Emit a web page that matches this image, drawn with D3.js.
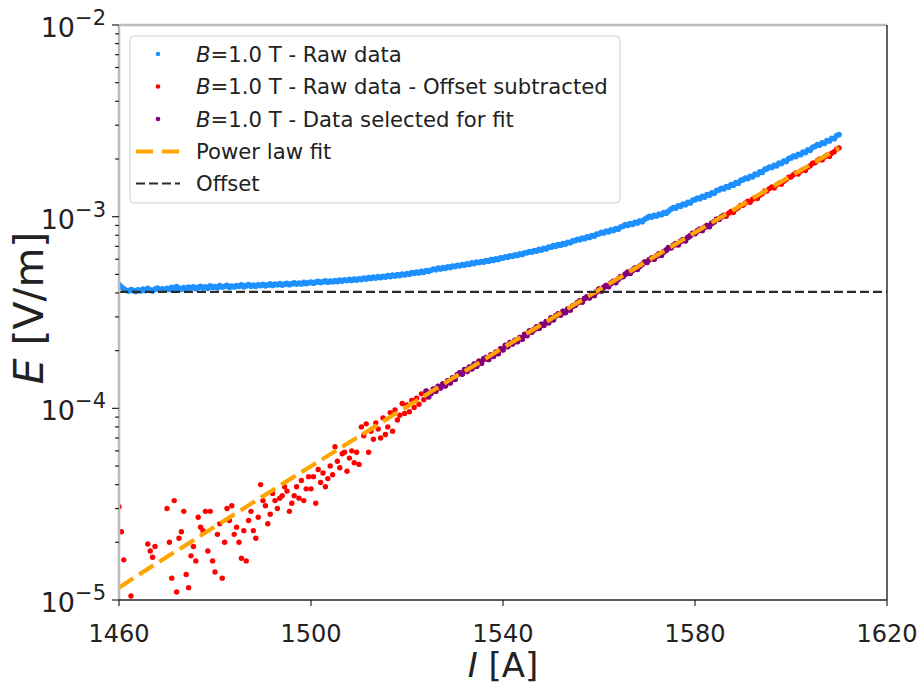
<!DOCTYPE html>
<html>
<head>
<meta charset="utf-8">
<script src="https://cdn.jsdelivr.net/npm/d3@7"></script>
<style>
  body { margin: 0; background: #fff; }
  svg { font-family: 'DejaVu Sans', sans-serif; }
</style>
</head>
<body>
<div id="main"></div>
<script>
// measurement grid: current ramp sampled every 0.5 A
const currentStart = 1460;
const currentStep = 0.5;

// B=1.0 T raw data, E in units of 1e-4 V/m
const rawE = [
  4.42, 4.30, 4.20, 4.13, 4.09, 4.16, 4.12, 4.07, 4.15, 4.10,
  4.18, 4.12, 4.22, 4.15, 4.10, 4.19, 4.24, 4.14, 4.20, 4.16,
  4.23, 4.17, 4.27, 4.20, 4.31, 4.22, 4.18, 4.26, 4.21, 4.29,
  4.24, 4.30, 4.21, 4.27, 4.33, 4.25, 4.30, 4.23, 4.35, 4.28,
  4.31, 4.26, 4.36, 4.29, 4.33, 4.38, 4.28, 4.34, 4.30, 4.37,
  4.33, 4.40, 4.31, 4.36, 4.42, 4.34, 4.39, 4.33, 4.41, 4.37,
  4.43, 4.36, 4.40, 4.46, 4.38, 4.44, 4.41, 4.47, 4.40, 4.45,
  4.49, 4.42, 4.47, 4.51, 4.45, 4.50, 4.46, 4.54, 4.48, 4.52,
  4.56, 4.50, 4.55, 4.60, 4.53, 4.58, 4.62, 4.55, 4.61, 4.57,
  4.63, 4.59, 4.66, 4.61, 4.68, 4.64, 4.70, 4.65, 4.72, 4.67,
  4.74, 4.70, 4.78, 4.73, 4.80, 4.76, 4.83, 4.78, 4.86, 4.81,
  4.88, 4.84, 4.92, 4.87, 4.95, 4.90, 4.98, 4.93, 5.02, 4.97,
  5.05, 5.00, 5.10, 5.06, 5.14, 5.09, 5.18, 5.13, 5.23, 5.19,
  5.26, 5.33, 5.29, 5.38, 5.34, 5.42, 5.38, 5.47, 5.43, 5.52,
  5.49, 5.57, 5.54, 5.62, 5.59, 5.67, 5.64, 5.73, 5.69, 5.79,
  5.76, 5.83, 5.80, 5.90, 5.86, 5.96, 5.92, 6.02, 5.98, 6.10,
  6.08, 6.17, 6.14, 6.24, 6.21, 6.31, 6.28, 6.39, 6.35, 6.48,
  6.47, 6.57, 6.54, 6.65, 6.62, 6.74, 6.70, 6.83, 6.79, 6.94,
  6.93, 7.05, 7.01, 7.14, 7.10, 7.24, 7.20, 7.35, 7.30, 7.47,
  7.49, 7.62, 7.58, 7.73, 7.68, 7.84, 7.79, 7.96, 7.91, 8.10,
  8.14, 8.29, 8.23, 8.40, 8.34, 8.53, 8.46, 8.66, 8.59, 8.82,
  8.92, 9.08, 9.01, 9.20, 9.13, 9.34, 9.27, 9.50, 9.42, 9.68,
  9.84, 10.02, 9.95, 10.16, 10.08, 10.32, 10.24, 10.50, 10.41, 10.70,
  10.96, 11.16, 11.10, 11.38, 11.32, 11.62, 11.55, 11.88, 11.80, 12.14,
  12.26, 12.50, 12.42, 12.74, 12.66, 13.02, 12.94, 13.32, 13.24, 13.66,
  13.78, 14.06, 13.98, 14.34, 14.26, 14.68, 14.60, 15.04, 14.96, 15.44,
  15.58, 15.90, 15.82, 16.22, 16.14, 16.66, 16.58, 17.10, 17.02, 17.62,
  17.78, 18.14, 18.06, 18.50, 18.42, 19.02, 18.92, 19.50, 19.40, 20.08,
  20.26, 20.70, 20.60, 21.16, 21.06, 21.74, 21.62, 22.30, 22.18, 23.00,
  23.26, 23.76, 23.64, 24.28, 24.16, 24.96, 24.84, 25.64, 25.52, 26.50,
  26.80
];

// raw data - offset subtracted, E in units of 1e-5 V/m (values below 1e-5 fall off the axis)
const subtractedE = [
  3.07, 2.27, 1.62, 0.6, 0.9, 1.05, 0.3, 0.7, -0.2, 0.85,
  0.6, 0.9, 1.96, 1.8, 1.67, 1.9, 0.7, 0.95, 0.4, 0.8,
  3.0, 2.0, 1.3, 3.3, 1.1, 2.1, 2.27, 2.9, 1.36, 1.16,
  1.7, 1.9, 1.6, 2.7, 2.4, 2.3, 2.9, 1.8, 2.9, 1.6,
  1.4, 2.2, 2.5, 1.3, 2.0, 3.0, 2.6, 3.1, 2.2, 2.4,
  2.0, 1.65, 2.3, 1.6, 2.6, 2.9, 2.3, 2.1, 2.7, 4.0,
  3.3, 3.1, 2.5, 2.8, 3.6, 3.3, 3.0, 3.4, 3.5, 3.9,
  3.7, 2.9, 3.2, 3.5, 3.9, 3.4, 4.2, 3.3, 3.8, 4.4,
  3.8, 4.4, 3.2, 4.8, 4.1, 4.6, 3.9, 4.3, 5.0, 4.5,
  6.3, 5.3, 4.9, 5.8, 5.9, 4.7, 5.5, 6.0, 5.2, 5.9,
  5.1, 8.0, 7.2, 8.3, 5.9, 7.6, 6.9, 8.4, 7.8, 7.0,
  8.9, 7.3, 8.0, 9.5, 7.6, 9.8, 8.7, 9.2, 10.6, 9.4,
  10.4, 9.6, 11.0, 10.1, 11.3, 10.5, 11.9, 11.1, 12.3, 11.5,
  12.0, 12.6, 12.3, 13.0, 12.8, 13.4, 13.1, 13.9, 13.6, 14.4,
  14.2, 15.0, 15.3, 15.1, 15.9, 15.6, 16.4, 16.1, 17.0, 16.6,
  17.6, 17.2, 18.1, 18.4, 18.0, 19.0, 18.7, 19.6, 19.3, 20.4,
  20.2, 21.3, 21.0, 22.0, 21.7, 22.6, 22.3, 23.4, 23.0, 24.3,
  24.0, 25.3, 25.0, 25.8, 26.6, 26.2, 27.4, 27.1, 28.3, 28.0,
  29.6, 29.0, 30.4, 31.1, 30.7, 32.0, 31.6, 33.0, 32.6, 34.1,
  34.5, 35.6, 36.3, 35.9, 37.4, 38.1, 37.7, 39.3, 38.8, 40.6,
  41.9, 41.0, 42.8, 43.7, 43.2, 45.0, 45.9, 45.3, 47.2, 48.6,
  48.7, 50.2, 51.3, 50.6, 52.6, 53.8, 53.1, 55.2, 56.4, 57.9,
  57.8, 59.7, 60.8, 60.1, 62.4, 63.9, 63.0, 65.6, 66.8, 68.9,
  68.8, 70.9, 72.3, 71.4, 74.2, 75.8, 74.9, 77.9, 79.4, 81.7,
  81.6, 84.2, 85.9, 84.8, 88.0, 89.9, 88.8, 92.4, 94.1, 96.9,
  96.8, 99.8, 101.5, 100.4, 104.3, 106.4, 105.1, 109.2, 111.4, 114.5,
  114.8, 118.0, 120.3, 118.9, 123.4, 126.0, 124.4, 129.2, 131.8, 136.0,
  136.2, 140.1, 142.9, 141.1, 146.2, 149.3, 147.4, 153.0, 156.1, 160.8,
  161.0, 165.6, 168.9, 166.8, 172.8, 176.4, 174.1, 180.8, 184.4, 190.0,
  191.0, 196.3, 200.2, 197.8, 204.8, 209.0, 206.3, 214.2, 218.4, 225.0,
  228.0
];

// current window used for the fit
const fitRange = [1524, 1586];

// power law fit curve, E in units of 1e-5 V/m
const fitCurrents = [1460, 1465, 1470, 1475, 1480, 1485, 1490, 1495, 1500, 1505, 1510,
  1515, 1520, 1525, 1530, 1535, 1540, 1545, 1550, 1555, 1560, 1565, 1570, 1575, 1580,
  1585, 1590, 1595, 1600, 1605, 1610];
const fitE = [1.16, 1.40, 1.68, 2.01, 2.42, 2.90, 3.48, 4.17, 4.99, 5.97, 7.14,
  8.53, 10.2, 12.2, 14.6, 17.3, 20.7, 24.6, 29.3, 34.9, 41.5, 49.3, 58.6, 69.6, 82.7,
  97.9, 116, 138, 163, 193, 228];

const offsetE = 4.05e-4;

const xTicks = [1460, 1500, 1540, 1580, 1620];
const yTickExponents = [-5, -4, -3, -2];

const legendLabels = [
  ' - Raw data',
  ' - Raw data - Offset subtracted',
  ' - Data selected for fit',
  'Power law fit',
  'Offset',
];

const width = 920;
const height = 689;
const mLeft = 119, mRight = 887, mTop = 25, mBottom = 600;

const blue = 'dodgerblue';
const red = '#ff0000';
const purple = 'purple';
const orange = 'orange';

const raw = rawE.map((v, i) => ({ I: currentStart + i * currentStep, E: v * 1e-4 }));
const subtracted = subtractedE.map((v, i) => ({ I: currentStart + i * currentStep, E: v * 1e-5 }))
  .filter((d) => d.E > 0);
const selected = subtracted.filter((d) => d.I >= fitRange[0] && d.I <= fitRange[1]);
const fit = fitCurrents.map((I, i) => ({ I, E: fitE[i] * 1e-5 }));

const svg = d3.select('#main')
  .append('svg')
  .attr('width', width)
  .attr('height', height);

const x = d3.scaleLinear().domain([1460, 1620]).range([mLeft, mRight]);
const y = d3.scaleLog().domain([1e-5, 1e-2]).range([mBottom, mTop]);

svg.append('clipPath')
  .attr('id', 'plot-clip')
  .append('rect')
  .attr('x', mLeft)
  .attr('y', mTop)
  .attr('width', mRight - mLeft)
  .attr('height', mBottom - mTop);

const plot = svg.append('g').attr('clip-path', 'url(#plot-clip)');

function drawDots(data, color, r) {
  plot.append('g')
    .selectAll('circle')
    .data(data)
    .enter()
    .append('circle')
    .attr('cx', (d) => x(d.I))
    .attr('cy', (d) => y(d.E))
    .attr('r', r)
    .style('fill', color);
}

drawDots(raw, blue, 2.9);
drawDots(subtracted, red, 2.7);
drawDots(selected, purple, 2.9);

const line = d3.line().x((d) => x(d.I)).y((d) => y(d.E));

plot.append('path')
  .datum(fit)
  .attr('d', line)
  .style('fill', 'none')
  .style('stroke', orange)
  .style('stroke-width', 4.2)
  .style('stroke-dasharray', '17,7');

plot.append('line')
  .attr('x1', mLeft)
  .attr('x2', mRight)
  .attr('y1', y(offsetE))
  .attr('y2', y(offsetE))
  .style('stroke', '#2a2a2a')
  .style('stroke-width', 2.4)
  .style('stroke-dasharray', '9,4');

// spines
svg.append('line').attr('x1', mLeft).attr('x2', mRight).attr('y1', mTop).attr('y2', mTop)
  .style('stroke', '#bbb').style('stroke-width', 2.5);
svg.append('line').attr('x1', mLeft).attr('x2', mLeft).attr('y1', mTop).attr('y2', mBottom)
  .style('stroke', '#bbb').style('stroke-width', 2.5);
svg.append('line').attr('x1', mRight).attr('x2', mRight).attr('y1', mTop).attr('y2', mBottom)
  .style('stroke', '#222').style('stroke-width', 1.4);
svg.append('line').attr('x1', mLeft).attr('x2', mRight).attr('y1', mBottom).attr('y2', mBottom)
  .style('stroke', '#222').style('stroke-width', 1.4);

// x ticks
const xg = svg.append('g');
xg.selectAll('line')
  .data(xTicks)
  .enter()
  .append('line')
  .attr('x1', (d) => x(d))
  .attr('x2', (d) => x(d))
  .attr('y1', mBottom)
  .attr('y2', mBottom + 6)
  .style('stroke', '#222')
  .style('stroke-width', 1.2);
xg.selectAll('text')
  .data(xTicks)
  .enter()
  .append('text')
  .attr('x', (d) => x(d))
  .attr('y', mBottom + 42)
  .attr('text-anchor', 'middle')
  .style('font-size', '24px')
  .style('fill', '#222')
  .text((d) => d);

// y ticks (log, with minor ticks)
const yg = svg.append('g');
yg.selectAll('line')
  .data(y.ticks())
  .enter()
  .append('line')
  .attr('x1', mLeft)
  .attr('x2', (d) => {
    const major = Math.abs(Math.log10(d) - Math.round(Math.log10(d))) < 1e-9;
    return mLeft - (major ? 7 : 4);
  })
  .attr('y1', (d) => y(d))
  .attr('y2', (d) => y(d))
  .style('stroke', '#222')
  .style('stroke-width', 1.2);

const yLabels = yg.selectAll('text')
  .data(yTickExponents)
  .enter()
  .append('text')
  .attr('x', 106)
  .attr('y', (d) => y(Math.pow(10, d)) + 12)
  .attr('text-anchor', 'end')
  .style('font-size', '27px')
  .style('fill', '#222');
yLabels.append('tspan').text('10');
yLabels.append('tspan')
  .attr('dy', -12)
  .style('font-size', '21px')
  .text((d) => '\u2212' + Math.abs(d));

// axis titles
const xTitle = svg.append('text')
  .attr('x', (mLeft + mRight) / 2)
  .attr('y', 677)
  .attr('text-anchor', 'middle')
  .style('font-size', '34px')
  .style('fill', '#222');
xTitle.append('tspan').style('font-style', 'italic').text('I');
xTitle.append('tspan').text(' [A]');

const yTitle = svg.append('text')
  .attr('transform', `translate(${43},${308}) rotate(-90)`)
  .attr('text-anchor', 'middle')
  .style('font-size', '41px')
  .style('fill', '#222');
yTitle.append('tspan').style('font-style', 'italic').text('E');
yTitle.append('tspan').text(' [V/m]');

// legend
const legend = svg.append('g');
legend.append('rect')
  .attr('x', 130)
  .attr('y', 36)
  .attr('width', 490)
  .attr('height', 167)
  .attr('rx', 4)
  .style('fill', 'white')
  .style('fill-opacity', 0.85)
  .style('stroke', '#d0d0d0')
  .style('stroke-width', 1);

const rowY = [54, 86.5, 119, 151.5, 183.5];
const dotColors = [blue, red, purple];

dotColors.forEach((c, i) => {
  legend.append('circle')
    .attr('cx', 158)
    .attr('cy', rowY[i])
    .attr('r', 2.3)
    .style('fill', c);
});

legend.append('line')
  .attr('x1', 136).attr('x2', 180)
  .attr('y1', rowY[3]).attr('y2', rowY[3])
  .style('stroke', orange)
  .style('stroke-width', 4.2)
  .style('stroke-dasharray', '17,9');

legend.append('line')
  .attr('x1', 136).attr('x2', 180)
  .attr('y1', rowY[4]).attr('y2', rowY[4])
  .style('stroke', '#2a2a2a')
  .style('stroke-width', 2)
  .style('stroke-dasharray', '9,4');

legendLabels.forEach((label, i) => {
  const t = legend.append('text')
    .attr('x', 196)
    .attr('y', rowY[i] + 7.5)
    .style('font-size', '21.2px')
    .style('fill', '#222');
  if (i < 3) {
    t.append('tspan').style('font-style', 'italic').text('B');
    t.append('tspan').text('=1.0 T' + label);
  } else {
    t.text(label);
  }
});
</script>
</body>
</html>
